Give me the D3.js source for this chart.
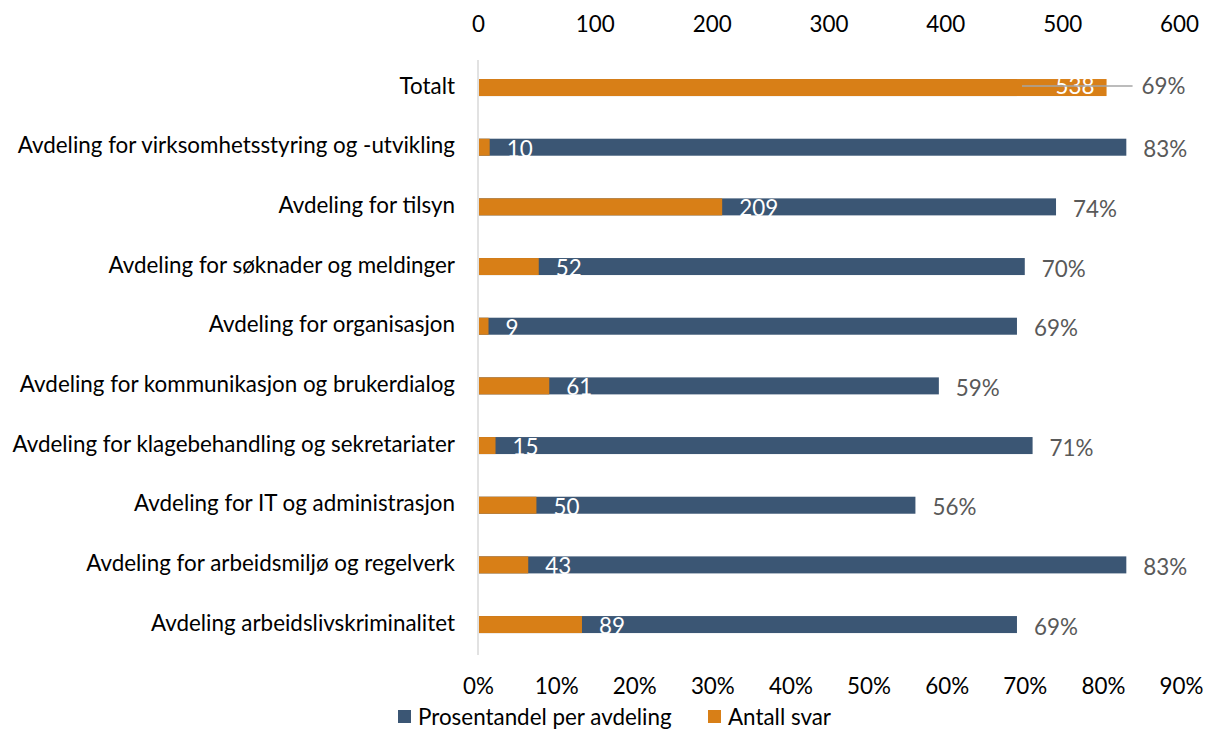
<!DOCTYPE html>
<html>
<head>
<meta charset="utf-8">
<script src="https://cdn.jsdelivr.net/npm/d3@7"></script>
<style>
  html, body { margin: 0; padding: 0; background: #fff; }
  svg { display: block; font-family: Lato, "Noto Sans", sans-serif; }
</style>
</head>
<body>
<svg id="chart" width="1206" height="730"></svg>
<script>
// Departments, top to bottom
const categories = [
  "Totalt",
  "Avdeling for virksomhetsstyring og -utvikling",
  "Avdeling for tilsyn",
  "Avdeling for søknader og meldinger",
  "Avdeling for organisasjon",
  "Avdeling for kommunikasjon og brukerdialog",
  "Avdeling for klagebehandling og sekretariater",
  "Avdeling for IT og administrasjon",
  "Avdeling for arbeidsmiljø og regelverk",
  "Avdeling arbeidslivskriminalitet"
];
// Response rate per department (%)
const percentValues = [69, 83, 74, 70, 69, 59, 71, 56, 83, 69];
// Number of responses
const countValues = [538, 10, 209, 52, 9, 61, 15, 50, 43, 89];

const percentTicks = [0, 10, 20, 30, 40, 50, 60, 70, 80, 90];
const countTicks = [0, 100, 200, 300, 400, 500, 600];
const seriesNames = ["Prosentandel per avdeling", "Antall svar"];

const BLUE = "#3b5674";
const ORANGE = "#d87f17";
const FS = 22.4;

const svg = d3.select("#chart");

const xPct = d3.scaleLinear().domain([0, 90]).range([478, 1181]);
const xCnt = d3.scaleLinear().domain([0, 600]).range([478, 1179]);
const y = d3.scaleBand().domain(categories).range([57.7, 654.4])
  .paddingInner(0.715).paddingOuter(0.3575);
const bh = y.bandwidth();
const cy = d => y(d) + bh / 2;

// Top axis (response counts)
const topAxis = svg.append("g").attr("transform", "translate(0,32)")
  .call(d3.axisTop(xCnt).tickValues(countTicks).tickSize(0).tickPadding(0));
topAxis.select(".domain").remove();
topAxis.selectAll("text").attr("font-size", FS).attr("fill", "#000")
  .attr("font-family", "Lato").attr("dy", 0);

// Bottom axis (percent)
const botAxis = svg.append("g").attr("transform", "translate(0,694)")
  .call(d3.axisBottom(xPct).tickValues(percentTicks).tickFormat(d => d + "%")
    .tickSize(0).tickPadding(0));
botAxis.select(".domain").remove();
botAxis.selectAll("text").attr("font-size", FS).attr("fill", "#000")
  .attr("font-family", "Lato").attr("dy", 0);

// Category axis line
svg.append("line")
  .attr("x1", 478).attr("x2", 478).attr("y1", 60).attr("y2", 655)
  .attr("stroke", "#d9d9d9").attr("stroke-width", 1.5);

const rows = categories.map((c, i) => ({ cat: c, pct: percentValues[i], cnt: countValues[i], i }));

// Category labels
svg.append("g").selectAll("text").data(rows).join("text")
  .attr("x", 455).attr("y", d => cy(d.cat) + 6)
  .attr("text-anchor", "end").attr("font-size", FS).attr("fill", "#000")
  .text(d => d.cat);

// Percent bars
svg.append("g").selectAll("rect").data(rows).join("rect")
  .attr("x", xPct(0) + 1).attr("y", d => y(d.cat))
  .attr("width", d => xPct(d.pct) - xPct(0) - 1).attr("height", bh)
  .attr("fill", BLUE);

// Count bars
svg.append("g").selectAll("rect").data(rows).join("rect")
  .attr("x", xCnt(0) + 1).attr("y", d => y(d.cat))
  .attr("width", d => xCnt(d.cnt) - xCnt(0) - 1).attr("height", bh)
  .attr("fill", ORANGE);

// Count labels (white)
svg.append("g").selectAll("text").data(rows).join("text")
  .attr("x", d => d.i === 0 ? xCnt(d.cnt) - 12 : xCnt(d.cnt) + 17)
  .attr("y", d => d.i === 0 ? cy(d.cat) + 6 : cy(d.cat) + 9.5)
  .attr("text-anchor", d => d.i === 0 ? "end" : "start")
  .attr("font-size", FS).attr("fill", "#fff")
  .text(d => d.cnt);

// Percent labels; the total row's label sits outside its count bar with a leader line
const pctLabelX = d => d.i === 0 ? xCnt(d.cnt) + 35 : xPct(d.pct) + 17;
svg.append("g").selectAll("line").data(rows.filter(d => d.i === 0)).join("line")
  .attr("x1", d => xPct(d.pct) + 5).attr("x2", d => pctLabelX(d) - 9)
  .attr("y1", d => cy(d.cat) - 1.5).attr("y2", d => cy(d.cat) - 1.5)
  .attr("stroke", "#a6a6a6").attr("stroke-width", 1.6);
svg.append("g").selectAll("text").data(rows).join("text")
  .attr("x", pctLabelX)
  .attr("y", d => d.i === 0 ? cy(d.cat) + 6 : cy(d.cat) + 10)
  .attr("font-size", FS).attr("fill", "#595959")
  .text(d => d.pct + "%");

// Legend
const legend = svg.append("g");
const legendItems = [
  { name: seriesNames[0], color: BLUE, x: 398 },
  { name: seriesNames[1], color: ORANGE, x: 708 }
];
legend.selectAll("rect").data(legendItems).join("rect")
  .attr("x", d => d.x).attr("y", 710).attr("width", 13).attr("height", 13)
  .attr("fill", d => d.color);
legend.selectAll("text").data(legendItems).join("text")
  .attr("x", d => d.x + 20).attr("y", 725)
  .attr("font-size", FS).attr("fill", "#000")
  .text(d => d.name);
</script>
</body>
</html>
